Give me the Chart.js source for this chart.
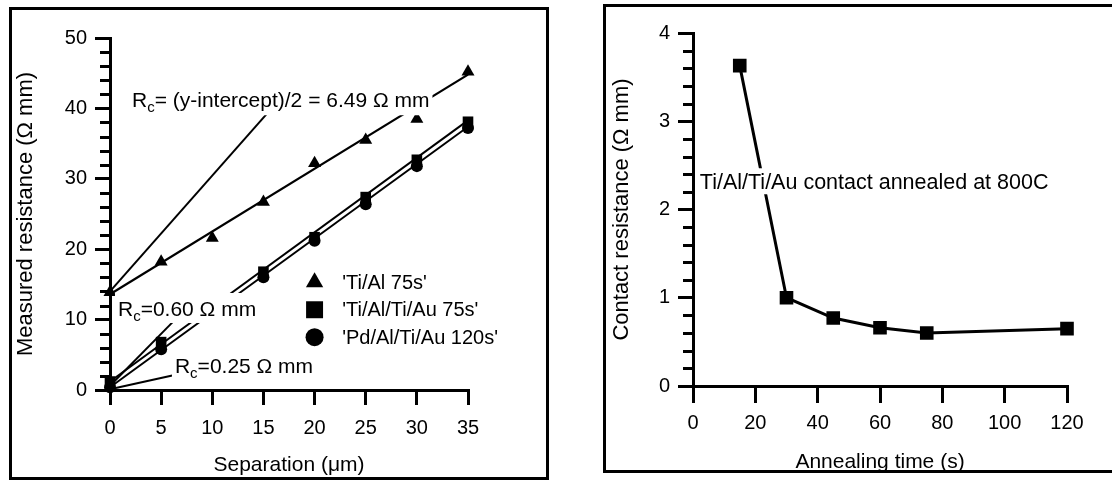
<!DOCTYPE html>
<html><head><meta charset="utf-8">
<script src="https://cdn.jsdelivr.net/npm/chart.js@4.4.1/dist/chart.umd.min.js"></script>
<style>
html,body{margin:0;padding:0;background:#fff;overflow:hidden;width:1112px;height:481px;}
#wrap{position:relative;width:1112px;height:481px;overflow:hidden;}
canvas{position:absolute;top:0;}
#c1{left:0;} #c2{left:556px;}
.frame{position:absolute;border:3px solid #000;box-sizing:border-box;}
</style></head><body><div id="wrap">
<div class="frame" style="left:9px;top:7px;width:540px;height:473px"></div>
<div class="frame" style="left:603px;top:4px;width:520px;height:469px"></div>
<canvas id="c1" width="556" height="481"></canvas>
<canvas id="c2" width="556" height="481"></canvas>
</div>
<script>
const FONT = "'Liberation Sans', Arial, Helvetica, sans-serif";

// ---- Left chart: measured resistance vs separation ----
const sepTiAl = [0, 5, 10, 15, 20, 25, 30, 35];
const resTiAl = [13.9, 18.2, 21.6, 26.7, 32.2, 35.5, 38.5, 45.2];
const sepAu = [0, 5, 15, 20, 25, 30, 35];
const resTiAlTiAu = [1.2, 6.8, 16.8, 21.7, 27.4, 32.7, 38.1];
const resPdAlTiAu = [0.4, 5.8, 16.0, 21.2, 26.4, 31.8, 37.2];
const fitSep = [0, 35];
const fitTiAl = [13.6, 44.8];
const fitTiAlTiAu = [1.2, 38.3];
const fitPdAlTiAu = [0.4, 37.4];
const ptrA_X = [0, 15.5], ptrA_Y = [14, 39.5];
const ptrB_X = [0, 6.1],  ptrB_Y = [0.6, 9.6];
const ptrC_X = [0, 6.2],  ptrC_Y = [0.1, 2.1];
const sepTicks = [0, 5, 10, 15, 20, 25, 30, 35];
const resTicks = [0, 10, 20, 30, 40, 50];
const legendLabels = ["'Ti/Al 75s'", "'Ti/Al/Ti/Au 75s'", "'Pd/Al/Ti/Au 120s'"];
const noteA = '= (y-intercept)/2 = 6.49 \u03A9 mm';
const noteB = '=0.60 \u03A9 mm';
const noteC = '=0.25 \u03A9 mm';

// ---- Right chart: contact resistance vs annealing time ----
const annealTime = [15, 30, 45, 60, 75, 120];
const contactRes = [3.63, 1.00, 0.77, 0.66, 0.60, 0.65];
const timeTicks = [0, 20, 40, 60, 80, 100, 120];
const crTicks = [0, 1, 2, 3, 4];
const noteR = 'Ti/Al/Ti/Au contact annealed at 800C';

Chart.defaults.font.family = FONT;
Chart.defaults.color = '#000';

const pts = (xs, ys) => xs.map((v, i) => ({x: v, y: ys[i]}));

function minorTicks(step, majorEvery, len, width) {
  return {
    id: 'minorTicks',
    afterDraw(chart) {
      const s = chart.scales.y, ctx = chart.ctx, left = chart.chartArea.left;
      ctx.save(); ctx.strokeStyle = '#000'; ctx.lineWidth = width;
      const n = Math.round((s.max - s.min) / step);
      for (let k = 0; k <= n; k++) {
        if (k % majorEvery === 0) continue;
        const py = Math.round(s.getPixelForValue(s.min + k * step)) + 0.5;
        ctx.beginPath(); ctx.moveTo(left - len, py); ctx.lineTo(left, py); ctx.stroke();
      }
      ctx.restore();
    }
  };
}

function maskedText(ctx, x, y, parts, padY) {
  let w = 0;
  parts.forEach(p => { ctx.font = p.size + 'px ' + FONT; p.w = ctx.measureText(p.t).width; w += p.w; });
  ctx.fillStyle = '#fff';
  ctx.fillRect(x - 3, y - padY, w + 6, 2 * padY);
  ctx.fillStyle = '#000';
  ctx.textBaseline = 'alphabetic';
  ctx.textAlign = 'left';
  let cx = x;
  parts.forEach(p => { ctx.font = p.size + 'px ' + FONT; ctx.fillText(p.t, cx, y + p.dy); cx += p.w; });
}

function rcParts(rest, size) {
  return [
    {t: 'R', size: size, dy: size * 0.36},
    {t: 'c', size: Math.round(size * 0.7), dy: size * 0.62},
    {t: rest, size: size, dy: size * 0.36}
  ];
}

function drawMarker(ctx, style, x, y, r) {
  ctx.beginPath();
  if (style === 'triangle') {
    ctx.moveTo(x, y - r); ctx.lineTo(x + r * 0.866, y + r * 0.5); ctx.lineTo(x - r * 0.866, y + r * 0.5); ctx.closePath();
  } else if (style === 'rect') {
    const h = r * Math.SQRT1_2; ctx.rect(x - h, y - h, 2 * h, 2 * h);
  } else {
    ctx.arc(x, y, r, 0, Math.PI * 2);
  }
  ctx.fillStyle = '#000'; ctx.fill();
}

const leftNotes = {
  id: 'leftNotes',
  afterDatasetsDraw(chart) {
    const {ctx, scales: {x, y}} = chart;
    ctx.save();
    maskedText(ctx, x.getPixelForValue(2.15), y.getPixelForValue(41.3), rcParts(noteA, 21), 16);
    maskedText(ctx, x.getPixelForValue(0.78), y.getPixelForValue(11.65), rcParts(noteB, 21), 15);
    maskedText(ctx, x.getPixelForValue(6.35), y.getPixelForValue(3.55), rcParts(noteC, 21), 13);
    const styles = ['triangle', 'rect', 'circle'];
    const radii = [10, 12, 9];
    const rowY = [15.3, 11.4, 7.5];
    styles.forEach((st, i) => {
      const py = y.getPixelForValue(rowY[i]);
      drawMarker(ctx, st, x.getPixelForValue(20.0), py, radii[i]);
      ctx.font = '20px ' + FONT; ctx.fillStyle = '#000';
      ctx.textAlign = 'left'; ctx.textBaseline = 'middle';
      ctx.fillText(legendLabels[i], x.getPixelForValue(22.7), py + 1);
    });
    ctx.restore();
  }
};

const rightNotes = {
  id: 'rightNotes',
  afterDatasetsDraw(chart) {
    const {ctx, scales: {x, y}} = chart;
    ctx.save();
    maskedText(ctx, x.getPixelForValue(2.2), y.getPixelForValue(2.32), [{t: noteR, size: 21.5, dy: 21.5 * 0.36}], 13);
    ctx.restore();
  }
};

function axisOpts(ticksArr, min, max, tickLen, tickPad, titleText, titleSize, titlePad, fitSize, horizontal) {
  return {
    type: 'linear', min: min, max: max,
    position: horizontal ? 'bottom' : 'left',
    afterBuildTicks: s => { s.ticks = ticksArr.map(v => ({value: v})); },
    ticks: {color: '#000', font: {size: 20, family: FONT}, padding: tickPad, maxRotation: 0, autoSkip: false},
    grid: {drawOnChartArea: false, drawTicks: true, tickLength: tickLen, lineWidth: 3, tickWidth: 3, tickColor: '#000', color: '#000'},
    border: {display: true, color: '#000', width: 3},
    title: {display: true, text: titleText, color: '#000', font: {size: titleSize, family: FONT},
            padding: horizontal ? {top: 0, bottom: titlePad} : {top: titlePad, bottom: 0}},
    afterFit: s => { if (horizontal) s.height = fitSize; else s.width = fitSize; }
  };
}

const lineDs = (xs, ys, w) => ({data: pts(xs, ys), showLine: true, borderColor: '#000', borderWidth: w,
  pointRadius: 0, pointHoverRadius: 0, clip: false, fill: false});
const markDs = (xs, ys, style, r) => ({data: pts(xs, ys), showLine: false, pointStyle: style, pointRadius: r,
  pointHoverRadius: r, backgroundColor: '#000', borderColor: '#000', borderWidth: 0, clip: false});

new Chart(document.getElementById('c1'), {
  type: 'scatter',
  data: {datasets: [
    markDs(sepTiAl, resTiAl, 'triangle', 7.5),
    markDs(sepAu, resTiAlTiAu, 'rect', 7.5),
    markDs(sepAu, resPdAlTiAu, 'circle', 6),
    lineDs(fitSep, fitTiAl, 2.2),
    lineDs(fitSep, fitTiAlTiAu, 2),
    lineDs(fitSep, fitPdAlTiAu, 2),
    lineDs(ptrA_X, ptrA_Y, 2),
    lineDs(ptrB_X, ptrB_Y, 2),
    lineDs(ptrC_X, ptrC_Y, 2)
  ]},
  options: {
    responsive: false, animation: false, devicePixelRatio: 1,
    layout: {padding: {left: 0, right: 88, top: 38, bottom: 0}},
    plugins: {legend: {display: false}, tooltip: {enabled: false}},
    scales: {
      x: axisOpts(sepTicks, 0, 35, 15, 11, 'Separation (\u03BCm)', 21, 3, 91, true),
      y: axisOpts(resTicks, 0, 50, 15, 8, 'Measured resistance (\u03A9 mm)', 22, 13, 110, false)
    }
  },
  plugins: [minorTicks(2, 5, 10, 3), leftNotes]
});

new Chart(document.getElementById('c2'), {
  type: 'scatter',
  data: {datasets: [
    Object.assign(markDs(annealTime, contactRes, 'rect', 7.5), {showLine: true, borderWidth: 3})
  ]},
  options: {
    responsive: false, animation: false, devicePixelRatio: 1,
    layout: {padding: {left: 0, right: 45, top: 33, bottom: 0}},
    plugins: {legend: {display: false}, tooltip: {enabled: false}},
    scales: {
      x: axisOpts(timeTicks, 0, 120, 17, 8, 'Annealing time (s)', 21, 6, 95, true),
      y: axisOpts(crTicks, 0, 4, 15, 8, 'Contact resistance (\u03A9 mm)', 22, 53, 137, false)
    }
  },
  plugins: [minorTicks(0.2, 5, 10, 3), rightNotes]
});
</script>
</body></html>
